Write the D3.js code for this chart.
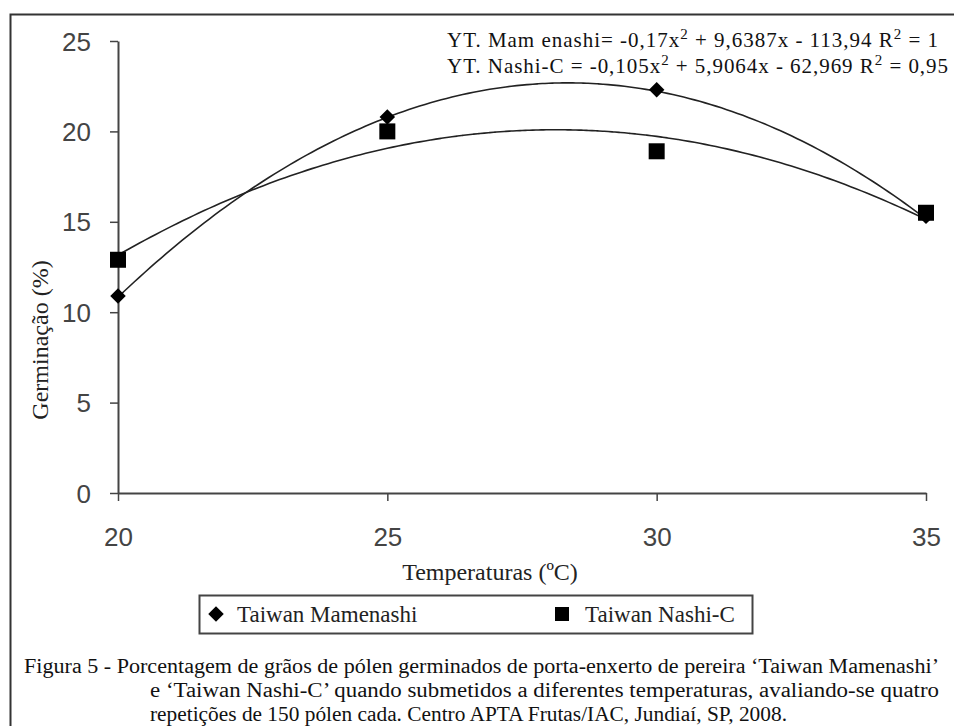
<!DOCTYPE html>
<html><head><meta charset="utf-8">
<script src="https://cdn.jsdelivr.net/npm/d3@7"></script>
<style>body{margin:0;background:#fff}svg{display:block}</style>
</head><body>
<script>
const temperatures = [20, 25, 30, 35];
const mamenashi = [10.9, 20.8, 22.3, 15.3];
const nashiC = [12.9, 20.0, 18.9, 15.5];
const coefMamenashi = [-0.17, 9.6387, -113.94];
const coefNashi = [-0.105, 5.9064, -62.969];
const yTicks = [0, 5, 10, 15, 20, 25];
const xTicks = [20, 25, 30, 35];
const seriesNames = ["Taiwan Mamenashi", "Taiwan Nashi-C"];

const W = 954, H = 726;
const svg = d3.select("body").append("svg").attr("width", W).attr("height", H);
svg.append("rect").attr("width", W).attr("height", H).attr("fill", "#fff");
svg.append("path").attr("d", "M10.5,726 V14.5 H954").attr("fill", "none").attr("stroke", "#333").attr("stroke-width", 2);

const x = d3.scaleLinear().domain([20, 35]).range([118, 926]);
const y = d3.scaleLinear().domain([0, 25]).range([493, 41]);

const ax = "#444";
const gy = svg.append("g").attr("transform", "translate(118,0)")
  .call(d3.axisLeft(y).tickValues(yTicks).tickSize(8).tickPadding(19).tickSizeOuter(0));
const gx = svg.append("g").attr("transform", "translate(0,493)")
  .call(d3.axisBottom(x).tickValues(xTicks).tickSize(8).tickPadding(27).tickSizeOuter(0));
[gx, gy].forEach(g => {
  g.select(".domain").attr("stroke", ax).attr("stroke-width", 2);
  g.selectAll(".tick line").attr("stroke", ax).attr("stroke-width", 1.5);
  g.selectAll(".tick text").attr("fill", "#444").attr("font-family", "Liberation Sans, Arial, sans-serif").attr("font-size", 26);
});
gy.selectAll(".tick text").attr("dy", "0.35em");

function curve(c) {
  const pts = d3.range(20, 35.001, 0.1).map(t => [t, c[0]*t*t + c[1]*t + c[2]]);
  return d3.line().x(d => x(d[0])).y(d => y(d[1])).curve(d3.curveBasis)(pts);
}
svg.append("path").attr("d", curve(coefMamenashi)).attr("fill", "none").attr("stroke", "#222").attr("stroke-width", 1.6);
svg.append("path").attr("d", curve(coefNashi)).attr("fill", "none").attr("stroke", "#222").attr("stroke-width", 1.6);

const diamondPath = d3.symbol().type(d3.symbolSquare).size(120)();
svg.selectAll(".dm").data(temperatures).enter().append("path")
  .attr("d", diamondPath)
  .attr("transform", (d, i) => `translate(${x(d)},${y(mamenashi[i])}) rotate(45)`)
  .attr("fill", "#000");
svg.selectAll(".sq").data(temperatures).enter().append("rect")
  .attr("x", d => x(d) - 8).attr("y", (d, i) => y(nashiC[i]) - 8)
  .attr("width", 16).attr("height", 16).attr("fill", "#000");

const serif = "Liberation Serif, Times New Roman, serif";
const eq = svg.append("g").attr("font-family", serif).attr("font-size", 21).attr("fill", "#111");
const t1 = eq.append("text").attr("x", 447).attr("y", 47).attr("textLength", 491).attr("lengthAdjust", "spacing");
t1.append("tspan").text("YT. Mam enashi= -0,17x");
t1.append("tspan").attr("baseline-shift", "super").attr("font-size", 15).text("2");
t1.append("tspan").text(" + 9,6387x - 113,94 R");
t1.append("tspan").attr("baseline-shift", "super").attr("font-size", 15).text("2");
t1.append("tspan").text(" = 1");
const t2 = eq.append("text").attr("x", 447).attr("y", 73).attr("textLength", 501).attr("lengthAdjust", "spacing");
t2.append("tspan").text("YT. Nashi-C = -0,105x");
t2.append("tspan").attr("baseline-shift", "super").attr("font-size", 15).text("2");
t2.append("tspan").text(" + 5,9064x - 62,969 R");
t2.append("tspan").attr("baseline-shift", "super").attr("font-size", 15).text("2");
t2.append("tspan").text(" = 0,95");

svg.append("text").attr("x", 490).attr("y", 580).attr("text-anchor", "middle")
  .attr("font-family", serif).attr("font-size", 24).attr("fill", "#222").text("Temperaturas (ºC)");
svg.append("text").attr("transform", "translate(48,340) rotate(-90)").attr("text-anchor", "middle")
  .attr("font-family", serif).attr("font-size", 24).attr("fill", "#222").text("Germinação (%)");

svg.append("rect").attr("x", 199.5).attr("y", 595.5).attr("width", 553).attr("height", 38)
  .attr("fill", "#fff").attr("stroke", "#444").attr("stroke-width", 2);
svg.append("path").attr("d", diamondPath)
  .attr("transform", "translate(216,614) rotate(45)").attr("fill", "#000");
svg.append("rect").attr("x", 555).attr("y", 607).attr("width", 14).attr("height", 14).attr("fill", "#000");
const lg = svg.append("g").attr("font-family", serif).attr("font-size", 23).attr("fill", "#222");
lg.append("text").attr("x", 237).attr("y", 622).text(seriesNames[0]);
lg.append("text").attr("x", 585).attr("y", 622).text(seriesNames[1]);

const cap = svg.append("g").attr("font-family", serif).attr("font-size", 20).attr("fill", "#111");
cap.append("text").attr("x", 24).attr("y", 673).attr("textLength", 915).attr("lengthAdjust", "spacingAndGlyphs")
  .text("Figura 5 - Porcentagem de grãos de pólen germinados de porta-enxerto de pereira ‘Taiwan Mamenashi’");
cap.append("text").attr("x", 150).attr("y", 697).attr("textLength", 789).attr("lengthAdjust", "spacingAndGlyphs")
  .text("e ‘Taiwan Nashi-C’ quando submetidos a diferentes temperaturas, avaliando-se quatro");
cap.append("text").attr("x", 150).attr("y", 721).attr("textLength", 637).attr("lengthAdjust", "spacingAndGlyphs")
  .text("repetições de 150 pólen cada. Centro APTA Frutas/IAC, Jundiaí, SP, 2008.");
</script>
</body></html>
